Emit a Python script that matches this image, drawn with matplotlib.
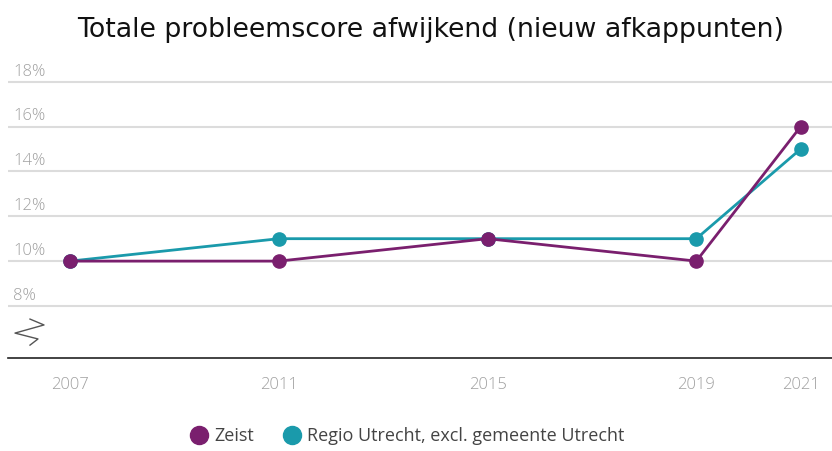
import matplotlib.pyplot as plt
import matplotlib.transforms as mtransforms
from matplotlib.lines import Line2D

years = [2007, 2011, 2015, 2019, 2021]
zeist = [10, 10, 11, 10, 16]
regio = [10, 11, 11, 11, 15]
yticks = [8, 10, 12, 14, 16, 18]
series_names = ["Zeist", "Regio Utrecht, excl. gemeente Utrecht"]

PURPLE = "#7a1f6e"
TEAL = "#1a9aab"
LABEL_FONT = {"family": "Open Sans", "fontweight": "light"}

fig = plt.figure(figsize=(8.32, 4.51), dpi=100)
ax = fig.add_axes([8 / 832, 1 - 358 / 451, 1 - 8 / 832, (358 - 78) / 451])

ax.plot(years, regio, color=TEAL, lw=2.0, marker="o", ms=9.5, zorder=3)
ax.plot(years, zeist, color=PURPLE, lw=2.0, marker="o", ms=9.5, zorder=4)

ax.set_xlim(2005.81, 2021.6)
ax.set_ylim(5.68, 18.165)

for t in yticks:
    ax.axhline(t, color="#dcdcdc", lw=1.5, zorder=1)
    trans = mtransforms.offset_copy(ax.get_yaxis_transform(), fig=fig, x=0, y=1.5, units="points")
    ax.text(0.006, t, f"{t}%", transform=trans, ha="left", va="bottom",
            fontsize=12, color="#a0a0a0", **LABEL_FONT)

# axis break symbol
ax.plot([0.0267, 0.0437, 0.0085, 0.0364, 0.0267], [0.139, 0.118, 0.089, 0.068, 0.046],
        transform=ax.transAxes, color="#555555", lw=1.0, clip_on=False)

ax.set_yticks([])
ax.set_xticks(years)
ax.set_xticklabels([str(y) for y in years], fontsize=12, color="#a0a0a0", **LABEL_FONT)
ax.tick_params(axis="x", length=0, pad=14)
for side in ["top", "right", "left"]:
    ax.spines[side].set_visible(False)
ax.spines["bottom"].set_color("#222222")
ax.spines["bottom"].set_linewidth(1.2)

fig.text(0.517, 1 - 37 / 451, "Totale probleemscore afwijkend (nieuw afkappunten)",
         ha="center", va="baseline", fontsize=19.3, color="#111111")

handles = [Line2D([0], [0], marker="o", color="none", markerfacecolor=c, markeredgecolor=c, ms=13)
           for c in [PURPLE, TEAL]]
fig.legend(handles, series_names, loc="center", bbox_to_anchor=(0.488, 0.033), ncol=2,
           frameon=False, handletextpad=0.15, columnspacing=1.5, handlelength=1.3,
           prop={"family": "Open Sans", "size": 13}, labelcolor="#444444")

fig.savefig("out.png", dpi=100)
